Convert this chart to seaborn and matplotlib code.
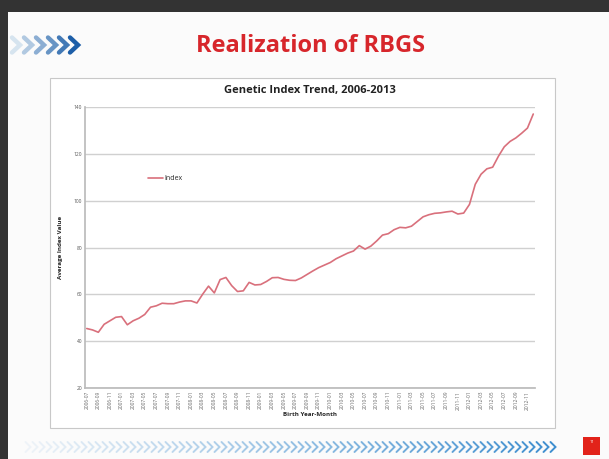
import numpy as np
import pandas as pd
import matplotlib
matplotlib.use("Agg")
import matplotlib.pyplot as plt
import seaborn as sns
from matplotlib.lines import Line2D
from matplotlib.patches import Rectangle
from matplotlib.colors import to_rgb

# ---- data ----
months = pd.period_range("2006-07", periods=78, freq="M")
month_labels = [p.strftime("%Y-%m") for p in months]
index_values = [45.4, 44.8, 43.8, 47.2, 48.7, 50.2, 50.5, 47.0, 48.7, 49.8,
                51.4, 54.5, 55.1, 56.2, 56.0, 56.0, 56.7, 57.2, 57.2, 56.3,
                60.1, 63.5, 60.6, 66.3, 67.2, 63.7, 61.2, 61.5, 65.1, 64.0,
                64.2, 65.5, 67.1, 67.2, 66.4, 66.0, 65.9, 67.0, 68.5, 70.0,
                71.4, 72.5, 73.6, 75.2, 76.4, 77.6, 78.5, 80.8, 79.3, 80.6,
                82.8, 85.3, 85.9, 87.6, 88.6, 88.4, 89.1, 91.1, 93.1, 94.0,
                94.6, 94.8, 95.2, 95.5, 94.3, 94.7, 98.4, 107.0, 111.3, 113.6,
                114.3, 119.0, 123.0, 125.3, 126.8, 128.8, 131.0, 137.0]
y_ticks = [20, 40, 60, 80, 100, 120, 140]

df = pd.DataFrame({"pos": np.arange(len(index_values)), "Index": index_values})

sns.set_theme(style="white")
plt.rcParams["font.family"] = ["Open Sans", "DejaVu Sans"]

W, H = 609, 459
fig = plt.figure(figsize=(W / 100, H / 100), dpi=100)
fig.patch.set_facecolor("#fbfbfb")

def fx(px):
    return px / W

def fy(py):
    return 1 - py / H

# dark frame (top and left)
fig.add_artist(Rectangle((0, fy(12)), 1, 1 - fy(12), transform=fig.transFigure,
                         facecolor="#333333", edgecolor="none", zorder=0))
fig.add_artist(Rectangle((0, 0), fx(8), 1, transform=fig.transFigure,
                         facecolor="#333333", edgecolor="none", zorder=0))

def chevron(cx, cy, w, h, color, lw):
    xs = [fx(cx - w / 2), fx(cx + w / 2), fx(cx - w / 2)]
    ys = [fy(cy - h / 2), fy(cy), fy(cy + h / 2)]
    fig.add_artist(Line2D(xs, ys, transform=fig.transFigure, color=color,
                          lw=lw, solid_joinstyle="miter", zorder=2))

def blend(c1, c2, t):
    a, b = np.array(to_rgb(c1)), np.array(to_rgb(c2))
    return tuple(a + (b - a) * t)

# top-left chevrons
top_x = [16, 28, 40, 52, 63, 74]
for i, cx in enumerate(top_x):
    chevron(cx, 45, 8, 15, blend("#d6e4ef", "#1d5ea8", i / (len(top_x) - 1)), 3.2)

# bottom chevron strip
bx = np.arange(28, 556, 7)
for i, cx in enumerate(bx):
    chevron(cx, 447, 5, 10, blend("#eef3f8", "#3f8fcf", i / (len(bx) - 1)), 1.4)

# red page marker
fig.add_artist(Rectangle((fx(583), fy(455)), fx(17), fy(437) - fy(455),
                         transform=fig.transFigure, facecolor="#e2231a",
                         edgecolor="none", zorder=2))
fig.text(fx(591.5), fy(442), "11", color="white", fontsize=3, ha="center",
         va="center", zorder=3)

# slide title
fig.text(fx(310), fy(46), "Realization of RBGS", color="#d7262b", fontsize=17,
         fontweight="bold", ha="center", va="center")

# chart box
fig.add_artist(Rectangle((fx(50), fy(428)), fx(505), fy(78) - fy(428),
                         transform=fig.transFigure, facecolor="white",
                         edgecolor="#c8c8c8", lw=0.8, zorder=1))

ax = fig.add_axes([fx(85), fy(388), fx(450), fy(107) - fy(388)], zorder=3)
ax.set_facecolor("white")
sns.lineplot(data=df, x="pos", y="Index", ax=ax, color="#d9707c", lw=1.2,
             label="Index")
ax.set_xlim(-0.3, len(index_values) - 0.7)
ax.set_ylim(20, 140)
ax.set_yticks(y_ticks)
ax.set_yticklabels([str(t) for t in y_ticks], fontsize=3.5, color="#555555")
ax.set_xticks(df["pos"][::2])
ax.set_xticklabels(month_labels[::2], rotation=90, fontsize=3.5, color="#666666")
ax.grid(axis="y", color="#d0d0d0", lw=1.0)
ax.grid(axis="x", visible=False)
for s in ["top", "right"]:
    ax.spines[s].set_visible(False)
ax.spines["left"].set_color("#bbbbbb")
ax.spines["bottom"].set_color("#bbbbbb")
ax.tick_params(axis="both", length=0, pad=2)
ax.set_xlabel("Birth Year-Month", fontsize=4.5, fontweight="bold", labelpad=2)
ax.set_ylabel("Average Index Value", fontsize=4.5, fontweight="bold", labelpad=8)
ax.set_title("Genetic Index Trend, 2006-2013", fontsize=8, fontweight="bold",
             pad=10, color="#222222")
leg = ax.legend(loc="upper left", bbox_to_anchor=(0.125, 0.78), frameon=False,
                fontsize=5, handlelength=2.2, handletextpad=0.3)

fig.savefig("out.png", dpi=100)
